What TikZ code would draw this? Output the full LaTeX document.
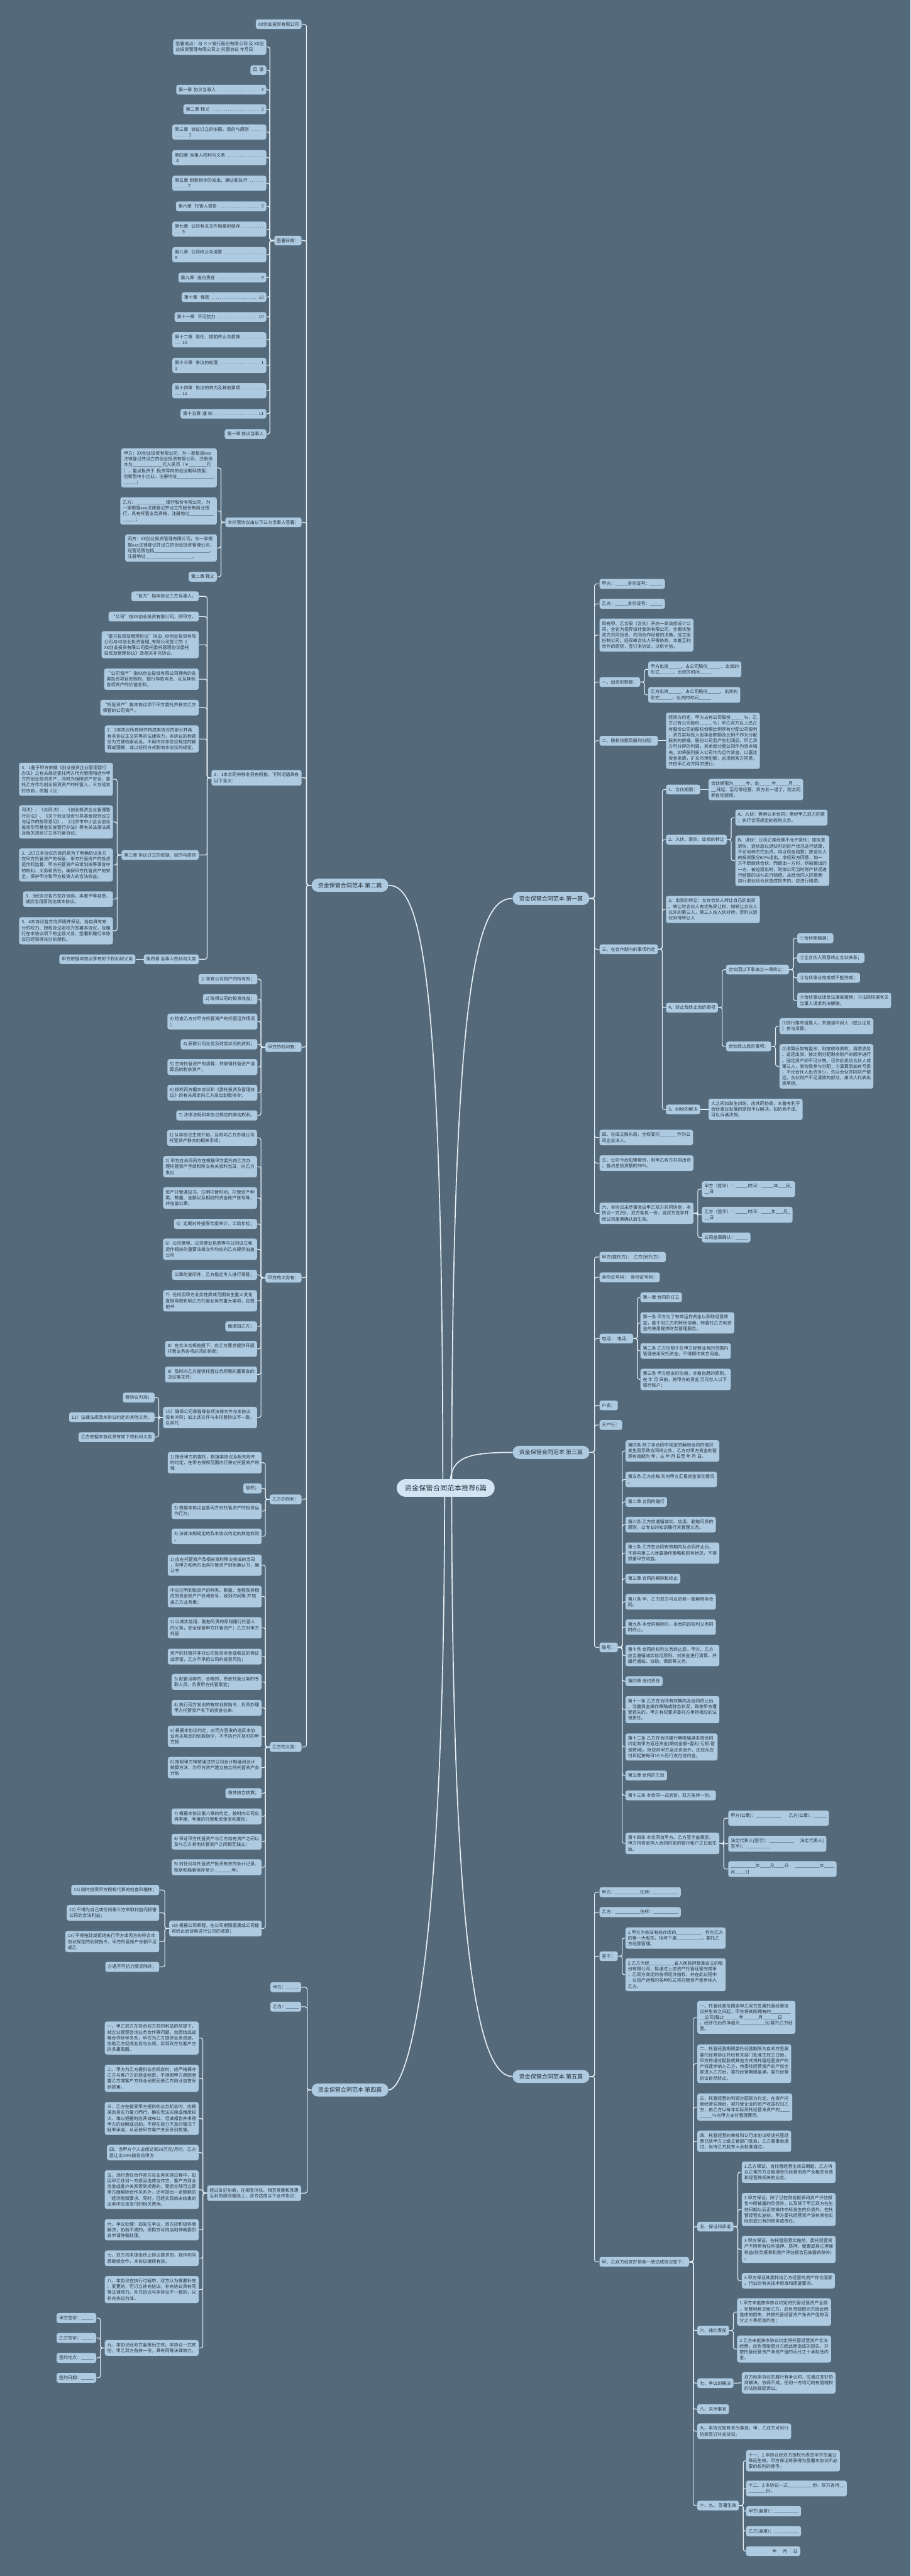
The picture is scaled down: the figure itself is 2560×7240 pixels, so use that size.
\documentclass[tikz,border=0pt]{standalone}
\usepackage{fontspec}
\setmainfont{Noto Sans CJK SC}
\usetikzlibrary{positioning}
\definecolor{slate}{HTML}{546A7B}
\definecolor{leafblue}{HTML}{ADCAE1}
\definecolor{rootblue}{HTML}{D2E5F2}
\definecolor{wire}{HTML}{E4EEF5}
\definecolor{ink}{HTML}{26323D}
\newcommand\leaffont{\fontsize{6.25pt}{8.15pt}\selectfont}
\newcommand\topicfont{\fontsize{8pt}{10pt}\selectfont}
\newcommand\rootfont{\fontsize{10pt}{12pt}\selectfont}
\newcommand\lead[1]{\makebox[#1]{\dotfill}}
\tikzset{leaf/.style={fill=leafblue,rounded corners=3pt,inner xsep=3.5pt,inner ysep=3.9pt,align=left,font=\leaffont,text=ink}}
\tikzset{lleaf/.style={leaf,anchor=east}}
\tikzset{rleaf/.style={leaf,anchor=west}}
\tikzset{topic/.style={fill=leafblue,rounded corners=9pt,minimum height=18.5pt,inner xsep=9pt,font=\topicfont,text=ink}}
\tikzset{root/.style={fill=rootblue,rounded corners=12pt,minimum height=24.5pt,inner xsep=11pt,font=\rootfont,text=ink}}
\tikzset{link/.style={draw=wire,line width=1pt,rounded corners=3pt}}
\tikzset{trunk/.style={draw=wire,line width=1.5pt}}

\begin{document}
\catcode`\_=12
\begin{tikzpicture}[x=0.5pt,y=-0.5pt]
\fill[slate] (0,0) rectangle (2560,7240);
\useasboundingbox (0,0) rectangle (2560,7240);

% five parts round the centre
\node[topic,anchor=east] (p2) at (1092,2488) {资金保管合同范本 第二篇};
\node[topic,anchor=east] (p4) at (1092,5874) {资金保管合同范本 第四篇};
\node[topic,anchor=west] (p1) at (1441,2525) {资金保管合同范本 第一篇};
\node[topic,anchor=west] (p3) at (1441,4082) {资金保管合同范本 第三篇};
\node[topic,anchor=west] (p5) at (1441,5836) {资金保管合同范本 第五篇};
\path[trunk] (1245,4182) .. controls (1245,2700) and (1180,2488) .. (p2.east);
\path[trunk] (1270,4182) .. controls (1270,2700) and (1350,2525) .. (p1.west);
\path[trunk] (1265,4182) .. controls (1265,4100) and (1300,4082) .. (p3.west);
\path[trunk] (1250,4182) .. controls (1250,5500) and (1150,5874) .. (p4.east);
\path[trunk] (1270,4182) .. controls (1270,5600) and (1360,5836) .. (p5.west);
\node[root] (root) at (1253,4182) {资金保管合同范本推荐6篇};

% part two
\node[lleaf] (b1) at (848,68) {XX创业投资有限公司};
\node[lleaf] (b2) at (848,676) {签署日期：};
\node[lleaf] (b3) at (848,1468) {本托管协议由以下三方当事人签署：};
\node[lleaf] (b4) at (848,2186) {2．1本合同中除非另有所指，下列词语具有\\以下含义：};
\node[lleaf] (b5) at (848,2943) {甲方的权利有：};
\node[lleaf] (b6) at (848,3591) {甲方的义务有：};
\node[lleaf] (b7) at (848,4214) {乙方的权利：};
\node[lleaf] (b8) at (848,4910) {乙方的义务：};
\foreach \c in {b1,b2,b3,b4,b5,b6,b7,b8}
    \path[link] (p2.west) -- ++(-14,0) |- (\c.east);

\node[lleaf] (b2a) at (749,132) {签署地点：与 ××银行股份有限公司 及 XX创\\业投资管理有限公司之 托管协议 年月日};
\node[lleaf] (b2b) at (749,197) {目\ \ 录};
\node[lleaf,text width=119.5pt] (b2c) at (749,252) {第一章 协议当事人 \dotfill\ 3};
\node[lleaf,text width=109.5pt] (b2d) at (749,307) {第二章 释义 \dotfill\ 3};
\node[lleaf,text width=125pt] (b2e) at (749,371) {第三章\ \ 协议订立的依据、目的与原则 \dotfill\\\lead{17.5pt}\ 3};
\node[lleaf,text width=125pt] (b2f) at (749,443) {第四章 当事人权利与义务 \dotfill\\\ 4};
\node[lleaf,text width=125pt] (b2g) at (749,515) {第五章 划款指令的发出、确认和执行 \dotfill\\\lead{16.5pt}\ 7};
\node[lleaf,text width=120pt] (b2h) at (749,580) {第六章\ \ 托管人报告 \dotfill\ 9};
\node[lleaf,text width=125pt] (b2i) at (749,644) {第七章\ \ 公司有关文件档案的保存\dotfill\\\lead{8.5pt}\ 9};
\node[lleaf,text width=125pt] (b2j) at (749,716) {第八章\ \ 公司终止与清算 \dotfill\\9};
\node[lleaf,text width=116.5pt] (b2k) at (749,780) {第九章\ \ 违约责任 \dotfill\ 9};
\node[lleaf,text width=112pt] (b2l) at (749,835) {第十章\ \ 保密 \dotfill\ 10};
\node[lleaf,text width=122pt] (b2m) at (749,891) {第十一章\ \ 不可抗力 \dotfill\ 10};
\node[lleaf,text width=125pt] (b2n) at (749,955) {第十二章\ \ 退任、提前终止与更换\dotfill\\\lead{8.5pt}\ 10};
\node[lleaf,text width=125pt] (b2o) at (749,1027) {第十三章\ \ 争议的处理 \dotfill\ 1\\1};
\node[lleaf,text width=125pt] (b2p) at (749,1098) {第十四章\ \ 协议的效力及其他事项\dotfill\\\lead{8.5pt}\ 11};
\node[lleaf,text width=113.5pt] (b2q) at (749,1163) {第十五章 通 知 \dotfill\ 11};
\node[lleaf] (b2r) at (749,1220) {第一章 协议当事人};
\foreach \c in {b2a,b2b,b2c,b2d,b2e,b2f,b2g,b2h,b2i,b2j,b2k,b2l,b2m,b2n,b2o,b2p,b2q,b2r}
    \path[link] (b2.west) -- ++(-12,0) |- (\c.east);

\node[lleaf] (b3a) at (610,1315) {甲方：XX创业投资有限公司，为一家根据xxx\\法律登记并设立的创业投资有限公司，注册资\\本为____________元人民币（￥_______元\\），重点投资于\ \ 投资导向的创业期科技型、\\创新型中小企业，注册地址_______________\\_____；};
\node[lleaf] (b3b) at (610,1436) {乙方：____________银行股份有限公司，为\\一家根据xxx法律登记并设立的股份制商业银\\行，具有托管业务资格，注册地址__________\\_____；};
\node[lleaf] (b3c) at (610,1540) {丙方：XX创业投资管理有限公司，为一家根\\据xxx法律登记并设立的创业投资管理公司，\\经营范围包括______________________，\\注册地址___________________。};
\node[lleaf] (b3d) at (610,1621) {第二章 释义};
\foreach \c in {b3a,b3b,b3c,b3d}
    \path[link] (b3.west) -- ++(-12,0) |- (\c.east);

\node[lleaf] (b4a) at (559,1676) {“各方”指本协议三方当事人。};
\node[lleaf] (b4b) at (559,1733) {“公司”指XX创业投资有限公司，即甲方。};
\node[lleaf] (b4c) at (559,1812) {“委托投资及管理协议”指由_XX创业投资有限\\公司与XX创业投资管理_有限公司签订的《\\XX创业投资有限公司委托委托管理协议委托\\投资及管理协议》及相关补充协议。};
\node[lleaf] (b4d) at (559,1909) {“公司资产”指XX创业投资有限公司拥有的各\\类投资项目的股权、银行存款本息、以及其他\\各项资产的价值总和。};
\node[lleaf] (b4e) at (559,1989) {“托管资产”指本协议项下甲方委托并移交乙方\\保管的公司资产。};
\node[lleaf] (b4f) at (559,2077) {2．2本协议所有附件构成本协议的部分并具\\有本协议正文同等的法律效力，本协议的标题\\仅为方便检索而设，不用作对本协议规定的解\\释或理解，或以任何方式影响本协议的规定。};
\node[lleaf] (b4g) at (559,2403) {第三章 协议订立的依据、目的与原则};
\node[lleaf] (b4h) at (559,2696) {第四章 当事人权利与义务};
\foreach \c in {b4a,b4b,b4c,b4d,b4e,b4f,b4g,b4h}
    \path[link] (b4.west) -- ++(-12,0) |- (\c.east);

\node[lleaf] (b4g1) at (318,2190) {3．1鉴于甲方依据《创业投资企业管理暂行\\办法》之有关规定委托丙方代为管理和运作甲\\方的创业投资资产，同时为保障资产安全，委\\托乙方作为创业投资资产的托管人，三方经友\\好协商，依据《公};
\node[lleaf] (b4g2) at (318,2310) {司法》、《合同法》、《创业投资企业管理暂\\行办法》、《关于创业投资引导基金规范设立\\与运作的指导意见》、《北京市中小企业创业\\投资引导基金实施暂行办法》等有关法律法规\\及相关规定订立本托管协议；};
\node[lleaf] (b4g3) at (318,2431) {3．2订立本协议的目的是为了明确协议各方\\在甲方托管资产的保管、甲方托管资产的投资\\运作和监督、甲方托管资产日常划拨等事宜中\\的权利、义务和责任，确保甲方托管资产的安\\全，保护甲方和甲方投资人的合法权益。};
\node[lleaf] (b4g4) at (318,2527) {3．3经协议各方友好协商，本着平等自愿、\\诚实信用原则达成本协议。};
\node[lleaf] (b4g5) at (318,2616) {3．4本协议各方均声明并保证，各自具有充\\分的权力、授权及法定权力签署本协议，及履\\行在本协议项下的全部义务、签署和履行本协\\议已经获得充分的授权。};
\foreach \c in {b4g1,b4g2,b4g3,b4g4,b4g5}
    \path[link] (b4g.west) -- ++(-12,0) |- (\c.east);
\node[lleaf] (b4h1) at (381,2696) {甲方依据本协议享有如下权利和义务};
    \path[link] (b4h.west) -- (b4h1.east);

\node[lleaf] (b5a) at (724,2752) {1) 享有公司财产的所有权；};
\node[lleaf] (b5b) at (724,2808) {2) 取得公司的投资收益；};
\node[lleaf] (b5c) at (724,2871) {3) 检查乙方对甲方托管资产的托管运作情况\\；};
\node[lleaf] (b5d) at (724,2935) {4) 获取公司业务及财务状况的资料；};
\node[lleaf] (b5e) at (724,2999) {5) 主持托管资产的清算，并取得托管资产清\\算后的剩余资产；};
\node[lleaf] (b5f) at (724,3071) {6) 授权丙方据本协议和《委托投资及管理协\\议》的有关规定向乙方发出划款指令；};
\node[lleaf] (b5g) at (724,3135) {7) 法律法规和本协议规定的其他权利。};
\foreach \c in {b5a,b5b,b5c,b5d,b5e,b5f,b5g}
    \path[link] (b5.west) -- ++(-12,0) |- (\c.east);

\node[lleaf] (b6a) at (723,3198) {1) 从本协议生效开始，及时与乙方办理公司\\托管资产移交的相关手续；};
\node[lleaf] (b6b) at (723,3279) {2) 甲方应会同丙方在根据甲方委托向乙方办\\理托管资产手续和移交有关资料当日，向乙方\\发出};
\node[lleaf] (b6c) at (723,3367) {资产托管通知书，注明托管时间、托管资产种\\类、数量、金额以及相应的资金账户账号等，\\并加盖公章；};
\node[lleaf] (b6d) at (723,3440) {5）定期对外接受年度审计、工商年检；};
\node[lleaf] (b6e) at (723,3511) {6）公司章程、公司营业执照等与公司设立和\\运作相关的重要法律文件均应向乙方提供加盖\\公司};
\node[lleaf] (b6f) at (723,3583) {公章的复印件，乙方指定专人进行保管；};
\node[lleaf] (b6g) at (723,3656) {7）任何因甲方业务性质或范围发生重大变化\\直接导致影响乙方托管业务的重大事项，应提\\前书};
\node[lleaf] (b6h) at (723,3728) {面通知乙方；};
\node[lleaf] (b6i) at (723,3791) {8）在合法合规前提下，应乙方要求提供开展\\托管业务各项必须的协助；};
\node[lleaf] (b6j) at (723,3863) {9）及时向乙方提供托管业务所需的董事会的\\决议等文件；};
\node[lleaf] (b6k) at (723,3984) {10）确保公司章程等各项法律文件与本协议\\没有冲突；如上述文件与本托管协议不一致，\\以本托};
\foreach \c in {b6a,b6b,b6c,b6d,b6e,b6f,b6g,b6h,b6i,b6j,b6k}
    \path[link] (b6.west) -- ++(-12,0) |- (\c.east);
\node[lleaf] (b6k1) at (435,3928) {管协议为准；};
\node[lleaf] (b6k2) at (435,3983) {11）法律法规及本协议约定的其他义务。};
\node[lleaf] (b6k3) at (435,4039) {乙方依据本协议享有如下权利和义务};
\foreach \c in {b6k1,b6k2,b6k3}
    \path[link] (b6k.west) -- ++(-12,0) |- (\c.east);

\node[lleaf] (b7a) at (736,4111) {1) 接受甲方的委托，根据本协议及相关附件\\的约定，在甲方授权范围内行使对托管资产的\\保};
\node[lleaf] (b7b) at (736,4183) {管权；};
\node[lleaf] (b7c) at (736,4247) {2) 根据本协议监督丙方对托管资产的投资运\\作行为；};
\node[lleaf] (b7d) at (736,4318) {3) 法律法规规定的及本协议约定的其他权利\\。};
\foreach \c in {b7a,b7b,b7c,b7d}
    \path[link] (b7.west) -- ++(-12,0) |- (\c.east);

\node[lleaf] (b8a) at (736,4399) {1) 应在托管资产及相关资料移交完成的当日\\，向甲方和丙方出具托管资产到账确认书，确\\认书};
\node[lleaf] (b8b) at (736,4487) {中应注明到账资产的种类、数量、金额及其相\\应的资金账户户名和账号、收到时间等,并加\\盖乙方业务章；};
\node[lleaf] (b8c) at (736,4575) {2) 以诚实信用、勤勉尽责的原则履行托管人\\的义务，安全保管甲方托管资产；乙方对甲方\\托管};
\node[lleaf] (b8d) at (736,4656) {资产的托管并非对公司投资本金或收益的保证\\或承诺，乙方不承担公司的投资风险；};
\node[lleaf] (b8e) at (736,4727) {3) 配备足够的、合格的、熟悉托管业务的专\\职人员，负责甲方托管事宜；};
\node[lleaf] (b8f) at (736,4800) {4) 执行丙方发出的有效划款指令，负责办理\\甲方托管资产名下的资金往来；};
\node[lleaf] (b8g) at (736,4880) {5) 根据本协议约定，对丙方签发的违反本协\\议有关规定的划款指令，不予执行并及时向甲\\方报};
\node[lleaf] (b8h) at (736,4968) {6) 按照甲方审核通过的公司会计制度和会计\\核算方法，为甲方资产建立独立的托管资产会\\计账};
\node[lleaf] (b8i) at (736,5040) {簿并独立核算；};
\node[lleaf] (b8j) at (736,5105) {7) 根据本协议第八章的约定，按时向公司出\\具季度、年度的托管和资金变动报告；};
\node[lleaf] (b8k) at (736,5176) {8) 保证甲方托管资产与乙方自有资产之间以\\及与乙方其他托管资产之间相互独立；};
\node[lleaf] (b8l) at (736,5248) {9) 对任何与托管资产投资有关的会计记录、\\账册和档案保存至少_______年；};
\node[lleaf] (b8m) at (736,5420) {10) 根据公司章程，在公司期限届满或公司提\\前终止后协助进行公司的清算；};
\foreach \c in {b8a,b8b,b8c,b8d,b8e,b8f,b8g,b8h,b8i,b8j,b8k,b8l,b8m}
    \path[link] (b8.west) -- ++(-12,0) |- (\c.east);
\node[lleaf] (b8m1) at (448,5312) {11) 随时接受甲方授权代表的检查和稽核；};
\node[lleaf] (b8m2) at (448,5376) {12) 不得为自己或任何第三方牟取利益而损害\\公司的合法利益；};
\node[lleaf] (b8m3) at (448,5457) {13) 不得拖延或拒绝执行甲方或丙方的符合本\\协议规定的划款指令，甲方托管账户余额不足\\或乙};
\node[lleaf] (b8m4) at (448,5528) {方遇不可抗力情况除外；};
\foreach \c in {b8m1,b8m2,b8m3,b8m4}
    \path[link] (b8m.west) -- ++(-12,0) |- (\c.east);

% part four
\node[lleaf] (d1) at (847,5585) {甲方：_____};
\node[lleaf] (d2) at (847,5640) {乙方：_____};
\node[lleaf] (d3) at (847,6164) {经过友好协商，在相互信任、相互尊重和互惠\\互利的原则基础上，双方达成以下合作协议：};
\foreach \c in {d1,d2,d3}
    \path[link] (p4.west) -- ++(-12,0) |- (\c.east);
\node[lleaf] (d3a) at (559,5728) {一、甲乙双方在符合双方共同利益的前提下，\\就企业管理咨询业务合作等问题，自愿结成战\\略合作伙伴关系，甲方为乙方提供业务资源，\\协助乙方促成业务与业绩，实现双方与客户方\\的多赢局面。};
\node[lleaf] (d3b) at (559,5841) {二、甲方为乙方提供业务机会时，应严格保守\\乙方与客户方的商业秘密，不得因甲方原因泄\\露乙方或客户方商业秘密而使乙方商业信誉受\\到损害。};
\node[lleaf] (d3c) at (559,5954) {三、乙方在接受甲方提供的业务机会时，应根\\据自身实力量力而行，确实无法实施或难度较\\大、难以把握时应开诚布公、坦诚相告并求得\\甲方的谅解或协助，不得在能力不及的情况下\\轻率承诺，从而使甲方客户关系受到损害。};
\node[lleaf] (d3d) at (559,6050) {四、当甲方个人业绩达到30万元/月时，乙方\\愿让出10\%股份给甲方};
\node[lleaf] (d3e) at (559,6154) {五、违约责任合作双方在业务实施过程中，如\\因甲乙任何一方原因造成合作方、客户方商业\\信誉或客户关系受到损害的，受损方除可立即\\单方面解除合作关系外，还可提出一定数额的\\`经济赔偿要求。同时，已经实现尚未结束的\\业务中应该支付的相关费用。};
\node[lleaf] (d3f) at (559,6267) {六、争议处理：如发生争议，双方应积极协商\\解决，协商不成的，受损方可向当地仲裁委员\\会申请仲裁处理。};
\node[lleaf] (d3g) at (559,6347) {七、双方均未提出终止协议要求的，视作均同\\意继续合作，本协议继续有效。};
\node[lleaf] (d3h) at (559,6435) {八、本协议在执行过程中，双方认为需要补充\\、变更的，可订立补充协议。补充协议具有同\\等法律效力。补充协议与本协议不一致的，以\\补充协议为准。};
\node[lleaf] (d3i) at (559,6599) {九、本协议经双方盖章后生效。本协议一式贰\\份，甲乙双方各持一份，具有同等法律效力。};
\foreach \c in {d3a,d3b,d3c,d3d,d3e,d3f,d3g,d3h,d3i}
    \path[link] (d3.west) -- ++(-12,0) |- (\c.east);
\node[lleaf] (d3i1) at (271,6515) {甲方签字：_____};
\node[lleaf] (d3i2) at (271,6571) {乙方签字：_____};
\node[lleaf] (d3i3) at (271,6627) {签约地点：_____};
\node[lleaf] (d3i4) at (271,6683) {签约日期：_____};
\foreach \c in {d3i1,d3i2,d3i3,d3i4}
    \path[link] (d3i.west) -- ++(-12,0) |- (\c.east);

% part one
\node[rleaf] (a1) at (1685,1641) {甲方：_____身份证号：_____};
\node[rleaf] (a2) at (1685,1697) {乙方：_____身份证号：_____};
\node[rleaf] (a3) at (1685,1785) {现有甲、乙合股（合伙）开办一家装修设计公\\司，全名为视界设计装饰有限公司，全面实施\\双方共同投资、共同合作经营的决策，成立股\\份制公司。经双峰合伙人平等协商，本着互利\\合作的原则，签订本协议，以供守信。};
\node[rleaf] (a4) at (1685,1917) {一、出资的数额：};
\node[rleaf] (a5) at (1685,2082) {二、股权份额及股利分配：};
\node[rleaf] (a6) at (1685,2668) {三、在合作期内的事项约定};
\node[rleaf] (a7) at (1685,3197) {四、在成立股东后，全权委托_______作为公\\司企业法人。};
\node[rleaf] (a8) at (1685,3269) {五、公司今后如需增资，则甲乙双方共同出资\\，各占总投资额的50\%。};
\node[rleaf] (a9) at (1685,3410) {六、本协议未尽事宜由甲乙双方共同协商，本\\协议一式2份，双方各执一份，自双方签字并\\经公司盖章确认后生效。};
\foreach \c in {a1,a2,a3,a4,a5,a6,a7,a8,a9}
    \path[link] (p1.east) -- ++(14,0) |- (\c.west);
\node[rleaf] (a4a) at (1822,1881) {甲方出资_____、占公司股份_____ 、出资的\\形式_____ 、出资的时间_____};
\node[rleaf] (a4b) at (1822,1953) {乙方出资_____、占公司股份_____、出资的\\形式_____、出资的时间_____};
\foreach \c in {a4a,a4b}
    \path[link] (a4.east) -- ++(12,0) |- (\c.west);
\node[rleaf] (a5a) at (1872,2082) {经双方约定，甲方占有公司股份_____ \%；乙\\方占有公司股份_____ \%；甲乙双方以上述占\\有股份公司的股权份额比例享有分配公司股利\\，双方实际投入股本金数额及比例不作为分配\\股利的依据。股份公司若产生利润后，甲乙双\\方可分得的利润，其余部分留公司作为资本填\\充。如将股利投入公司作为运作资金，以嘉达\\资金来源，扩充市场份额，必须经双方同意，\\并由甲乙双方同时进行。};
    \path[link] (a5.east) -- (a5a.west);
\node[rleaf] (a6a) at (1872,2219) {1、合伙期限：};
\node[rleaf] (a6b) at (1872,2360) {2、入伙、退伙，出资的转让};
\node[rleaf] (a6c) at (1872,2556) {3、出资的转让：允许合伙人转让自己的出资\\。转让时合伙人有优先受让权，如转让合伙人\\以外的第三人，第三人按入伙对待，否则以退\\伙对待转让人};
\node[rleaf] (a6d) at (1872,2832) {4、终止及终止后的事项};
\node[rleaf] (a6e) at (1872,3118) {5、纠纷的解决};
\foreach \c in {a6a,a6b,a6c,a6d,a6e}
    \path[link] (a6.east) -- ++(12,0) |- (\c.west);
\node[rleaf] (a6a1) at (1992,2219) {合伙期限为_____年，自_____年_____月___\\__日起，至月常经营，双方五一退了，则合同\\期自动延续。};
    \path[link] (a6a.east) -- (a6a1.west);
\node[rleaf] (a6b1) at (2067,2298) {A、入伙：需承认本合同；需经甲乙双方同意\\；执行合同规定的权利义务。};
\node[rleaf] (a6b2) at (2067,2419) {B、退伙：公司正常经营不允许退伙；如执意\\退伙，退伙后以退伙时的财产状况进行结算，\\不论何种方式出资，均以现金结算；按退伙人\\的投资股分60\%退出。非经双方同意，如一\\方不愿继续合伙，而踢出一方时，则被踢出的\\一方，被迫退出时，则按公司当时财产状况进\\行结算的60\%进行赔偿。未经合同人同意而\\自行退伙给合伙造成损失的，应进行赔偿。};
\foreach \c in {a6b1,a6b2}
    \path[link] (a6b.east) -- ++(12,0) |- (\c.west);
\node[rleaf] (a6d1) at (2041,2725) {合伙因以下事由之一得终止：};
\node[rleaf] (a6d2) at (2041,2941) {合伙终止后的事项：};
\foreach \c in {a6d1,a6d2}
    \path[link] (a6d.east) -- ++(12,0) |- (\c.west);
\node[rleaf] (a6d1a) at (2241,2637) {①合伙期届满；};
\node[rleaf] (a6d1b) at (2241,2692) {②全合伙人同意终止合伙关系；};
\node[rleaf] (a6d1c) at (2241,2748) {③合伙事业完成或不能完成；};
\node[rleaf] (a6d1d) at (2241,2812) {④合伙事业违反法律被撤销；⑤法院根据有关\\当事人请求判决解散。};
\foreach \c in {a6d1a,a6d1b,a6d1c,a6d1d}
    \path[link] (a6d1.east) -- ++(12,0) |- (\c.west);
\node[rleaf] (a6d2a) at (2191,2884) {①即行推举清算人，并邀请中间人（或公证员\\）参与清算；};
\node[rleaf] (a6d2b) at (2191,2997) {②清算后如有盈余，则按收取债权、清偿债务\\、返还出资、按比例分配剩余财产的顺序进行\\。固定资产和不可分物，可作价卖给合伙人或\\第三人，其价款参与分配；③清算后如有亏损\\，不论合伙人出资多少，先以合伙共同财产偿\\还，合伙财产不足清偿的部分，由法人代表出\\资承担。};
\foreach \c in {a6d2a,a6d2b}
    \path[link] (a6d2.east) -- ++(12,0) |- (\c.west);
\node[rleaf] (a6e1) at (1992,3118) {人之间如发生纠纷，应共同协商，本着有利于\\合伙事业发展的原则予以解决。如协商不成，\\可以诉诸法院。};
    \path[link] (a6e.east) -- (a6e1.west);
\node[rleaf] (a9a) at (1973,3342) {甲方（签字）：_____时间：_____年___月_\\__日};
\node[rleaf] (a9b) at (1973,3414) {乙方（签字）：_____时间：____年___月_\\__日};
\node[rleaf] (a9c) at (1973,3478) {公司盖章确认：_____};
\foreach \c in {a9a,a9b,a9c}
    \path[link] (a9.east) -- ++(12,0) |- (\c.west);

% part three
\node[rleaf] (c1) at (1685,3533) {甲方(委托方)：\ \ 乙方(受托方)：};
\node[rleaf] (c2) at (1685,3590) {身份证号码：\ \ 身份证号码：};
\node[rleaf] (c3) at (1685,3762) {电话：\ \ 电话：};
\node[rleaf] (c4) at (1685,3950) {户名：};
\node[rleaf] (c5) at (1685,4005) {开户行：};
\node[rleaf] (c6) at (1685,4630) {账号：};
\foreach \c in {c1,c2,c3,c4,c5,c6}
    \path[link] (p3.east) -- ++(14,0) |- (\c.west);
\node[rleaf] (c3a) at (1800,3646) {第一章 合同的订立};
\node[rleaf] (c3b) at (1800,3718) {第一条 甲方为了有效运作资金以获取经营收\\益，基于对乙方的特别信赖，特委托乙方就资\\金的使用提供财务管理服务。};
\node[rleaf] (c3c) at (1800,3797) {第二条 乙方仅限于在甲方经营业务的范围内\\管理使用受托资金，不得挪作其它用途。};
\node[rleaf] (c3d) at (1800,3877) {第三条 甲方经友好协商，本着自愿的原则，\\在 年 月 日前，将甲方的资金 万元存入以下\\银行账户：};
\foreach \c in {c3a,c3b,c3c,c3d}
    \path[link] (c3.east) -- ++(12,0) |- (\c.west);
\node[rleaf] (c6a) at (1758,4078) {第四条 除了本合同中规定的解除合同的情况\\发生而导致合同终止外，乙方对甲方资金的管\\理有效期为 年，从 年 月 日至 年 月 日。};
\node[rleaf] (c6b) at (1758,4158) {第五条 乙方应每 天向甲方汇报资金变动情况\\。};
\node[rleaf] (c6c) at (1758,4221) {第二章 合同的履行};
\node[rleaf] (c6d) at (1758,4285) {第六条 乙方应遵循诚实、信用、勤勉尽责的\\原则，以专业的知识履行其管理义务。};
\node[rleaf] (c6e) at (1758,4365) {第七条 乙方在合同有效期内及合同终止后，\\不得向第三人泄露操作策略和财务状况，不得\\损害甲方利益。};
\node[rleaf] (c6f) at (1758,4437) {第三章 合同的解除和终止};
\node[rleaf] (c6g) at (1758,4502) {第八条 甲、乙方双方可以协商一致解除本合\\同。};
\node[rleaf] (c6h) at (1758,4573) {第九条 本合同解除时，本合同的权利义务同\\时终止。};
\node[rleaf] (c6i) at (1758,4653) {第十条 合同的权利义务终止后，甲方、乙方\\应当遵循诚实信用原则，对资金进行清算，并\\履行通知、协助、保密等义务。};
\node[rleaf] (c6j) at (1758,4725) {第四章 违约责任};
\node[rleaf] (c6k) at (1758,4805) {第十一条 乙方在合同有效期内及合同终止后\\，泄露资金操作策略或财务状况，致使甲方遭\\受损失的，甲方有权要求委托方承担相应的法\\律责任。};
\node[rleaf] (c6l) at (1758,4910) {第十二条 乙方在合同履行期限届满未按合同\\约定向甲方返还资金(期初金额+盈利-亏损-管\\理费用)，除应向甲方返还资金外，还应从应\\付日起按每日10 \%另行支付违约金。};
\node[rleaf] (c6m) at (1758,4990) {第五章 合同的生效};
\node[rleaf] (c6n) at (1758,5046) {第十三条 本合同一式贰份，双方各持一份。};
\node[rleaf] (c6o) at (1758,5181) {第十四条 本合同自甲方、乙方签字盖章后，\\甲方将资金存入合同约定的银行帐户之日起生\\效。};
\foreach \c in {c6a,c6b,c6c,c6d,c6e,c6f,c6g,c6h,c6i,c6j,c6k,c6l,c6m,c6n,c6o}
    \path[link] (c6.east) -- ++(12,0) |- (\c.west);
\node[rleaf] (c6o1) at (2047,5110) {甲方(公章)：__________\ \ \ \ \ \ \ \ 乙方(公章)：_____\\};
\node[rleaf] (c6o2) at (2047,5182) {法定代表人(签字)：__________\ \ \ \ \ \ 法定代表人(\\签字)：__________};
\node[rleaf] (c6o3) at (2047,5253) {__________年____月____日\ \ \ \ \ \ __________年____\\月____日};
\foreach \c in {c6o1,c6o2,c6o3}
    \path[link] (c6o.east) -- ++(12,0) |- (\c.west);

% part five
\node[rleaf] (e1) at (1685,5318) {甲方：__________住所：__________};
\node[rleaf] (e2) at (1685,5374) {乙方：__________住所：__________};
\node[rleaf] (e3) at (1685,5498) {鉴于：};
\node[rleaf] (e4) at (1685,6357) {甲、乙双方经友好协商一致达成协议如下：};
\foreach \c in {e1,e2,e3,e4}
    \path[link] (p5.east) -- ++(14,0) |- (\c.west);
\node[rleaf] (e3a) at (1758,5447) {1.甲方为依法有效存续的__________，作为乙方\\的第一大股东，拟将下属__________，委托乙\\方经营管理。};
\node[rleaf] (e3b) at (1758,5550) {2.乙方为经__________省人民政府批准设立的股\\份有限公司，拟通过上述资产托管经营完成甲\\、乙双方商定的各项经济指标，并在此过程中\\，以资产运营的各种形式将托管资产逐步纳入\\乙方。};
\foreach \c in {e3a,e3b}
    \path[link] (e3.east) -- ++(12,0) |- (\c.west);
\node[rleaf] (e4a) at (1960,5670) {一、托管经营范围自甲乙双方签属托管经营协\\议并生效之日起，甲方将其所拥有的________\\__公司(截止______年______月______日\\，经评估后的净值为__________元)委托乙方经\\营。};
\node[rleaf] (e4b) at (1960,5800) {二、托管经营期限委托经营期限为自双方签属\\委托经营协议并经有关部门批准生效之日始，\\甲方将通过配股或其他方式将托管经营资产的\\产权逐步纳入乙方，待委托经营资产的产权全\\部进入乙方后，委托经营期限届满，委托经营\\协议自然终止。};
\node[rleaf] (e4c) at (1960,5922) {三、托管经营的利润分配双方约定，在资产托\\管经营实施后，被托管企业的资产收益权归乙\\方，由乙方以每年实际受托经营净资产的____\\_____％向甲方支付管理费用。};
\node[rleaf] (e4d) at (1960,6018) {四、托管经营的审批和认可本协议所述托管经\\营已获甲方上级主管部门批准，乙方董事会通\\过，尚待乙方股东大会批准通过。};
\node[rleaf] (e4e) at (1960,6258) {五、保证和承诺};
\node[rleaf] (e4f) at (1960,6550) {六、违约责任};
\node[rleaf] (e4g) at (1960,6698) {七、争议的解决};
\node[rleaf] (e4h) at (1960,6771) {八、未尽事宜};
\node[rleaf] (e4i) at (1960,6833) {九、本协议如有未尽事宜，甲、乙双方可另行\\协商签订补充协议。};
\node[rleaf] (e4j) at (1960,7042) {十、九、 签署生效};
\foreach \c in {e4a,e4b,e4c,e4d,e4e,e4f,e4g,e4h,e4i,e4j}
    \path[link] (e4.east) -- ++(12,0) |- (\c.west);
\node[rleaf] (e4e1) at (2085,6105) {1.乙方保证，自托管经营生效日期起，乙方将\\以正常的方法管理受托经营的资产及相关负债\\和经营其相关的业务。};
\node[rleaf] (e4e2) at (2085,6210) {2.甲方保证，除了已在财务报表和资产评估报\\告中所披露的负债外，以及除了甲乙双方在生\\效日期以后正常操作中所发生的负债外，在托\\管经营实施前，甲方委托经营资产没有其他实\\际的或已有的债务或责任。};
\node[rleaf] (e4e3) at (2085,6322) {3.甲方保证，在托管经营实施前，委托经营资\\产不附带有任何抵押、质押、留置或其它担保\\权益(财务报表和资产评估报告已披露的除外)\\。};
\node[rleaf] (e4e4) at (2085,6410) {4.甲方保证其委托给乙方经营的资产符合国家\\、行业的有关技术标准和质量要求。};
\foreach \c in {e4e1,e4e2,e4e3,e4e4}
    \path[link] (e4e.east) -- ++(12,0) |- (\c.west);
\node[rleaf] (e4f1) at (2072,6498) {1.甲方未能按本协议约定将托管经营资产全部\\、完整地移交给乙方，应负责赔偿对方因此而\\造成的损失，并按托管经营资产净资产值的百\\分之十承担违约金；};
\node[rleaf] (e4f2) at (2072,6602) {2.乙方未能按本协议约定将托管经营资产合法\\经营，应负责赔偿对方因此而造成的损失，并\\按托管经营资产净资产值的百分之十承担违约\\金。};
\foreach \c in {e4f1,e4f2}
    \path[link] (e4f.east) -- ++(12,0) |- (\c.west);
\node[rleaf] (e4g1) at (2085,6697) {双方就本协议的履行有争议时，应通过友好协\\商解决。协商不成，任何一方均可向有管辖权\\的法院提起诉讼。};
    \path[link] (e4g.east) -- (e4g1.west);
\node[rleaf] (e4j1) at (2097,6916) {十一、1.本协议经双方授权代表签字并加盖公\\章后生效。甲方保证将获得为签署本协议所必\\要的权利的授予。};
\node[rleaf] (e4j2) at (2097,6994) {十二、2.本协议一式__________份，双方各持__\\_______份。};
\node[rleaf] (e4j3) at (2097,7058) {甲方(盖章)：__________};
\node[rleaf] (e4j4) at (2097,7114) {乙方(盖章)：__________};
\node[rleaf] (e4j5) at (2097,7170) {\ \ \ \ \ \ \ \ \ \ \ \ \ \ \ \ \ \ \ \ \ \ \ \ 年\ \ \ \ \ \ 月\ \ \ \ \ \ 日};
\foreach \c in {e4j1,e4j2,e4j3,e4j4,e4j5}
    \path[link] (e4j.east) -- ++(12,0) |- (\c.west);
\end{tikzpicture}
\end{document}
